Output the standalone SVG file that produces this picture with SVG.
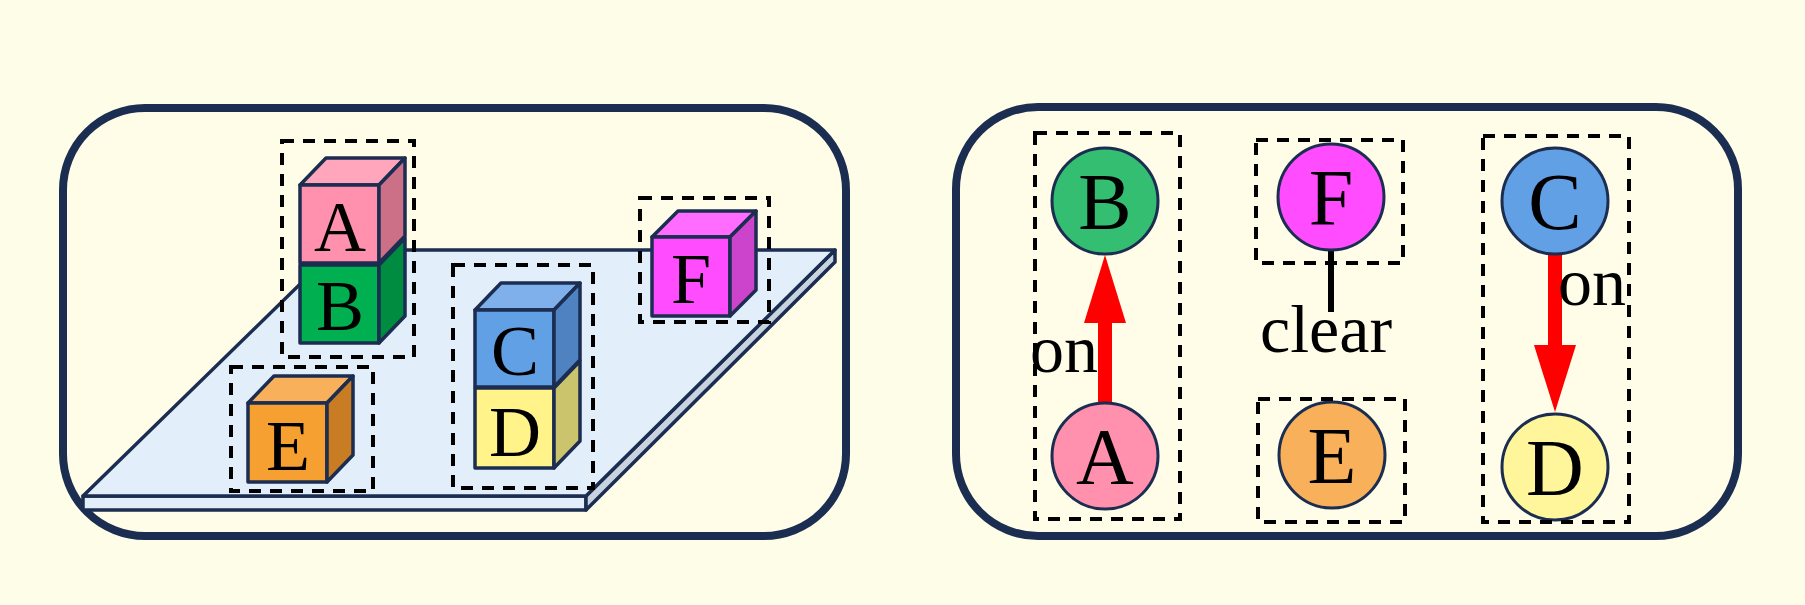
<svg xmlns="http://www.w3.org/2000/svg" width="1805" height="605" viewBox="0 0 1805 605">
<defs>
<style>
.panel{fill:#FFFDE8;stroke:#1B2D50;stroke-width:8}
.cube polygon,.cube rect{stroke:#1B2D50;stroke-width:3.5;stroke-linejoin:round}
.dash{fill:none;stroke:#000;stroke-width:4;stroke-dasharray:12 9}
.lt{font-family:"Liberation Serif","Times New Roman",serif;font-size:80px;text-anchor:middle;fill:#000}
.ct{font-family:"Liberation Serif","Times New Roman",serif;font-size:72px;text-anchor:middle;fill:#000}
.lb{font-family:"Liberation Serif","Times New Roman",serif;font-size:68px;fill:#000}
.node{stroke:#1B2D50;stroke-width:3}
</style>
</defs>
<rect width="1805" height="605" fill="#FEFDE8"/>
<g id="world">
<rect class="panel" x="63" y="108" width="783" height="428" rx="82"/>
<g id="table" stroke="#1B2D50" stroke-width="3.5" stroke-linejoin="round">
<polygon points="83,496 586,496 586,510 83,510" fill="#E2EEFA"/>
<polygon points="586,496 835,250 835,262 586,510" fill="#C9D3DF"/>
<polygon points="335,250 835,250 586,496 83,496" fill="#E2EEFA"/>
</g>
<g id="blockB" class="cube">
<rect x="300" y="265" width="79" height="78" fill="#00B050"/>
<polygon points="379,265 405,238 405,316 379,343" fill="#008C40"/>
<text class="ct" x="340" y="330">B</text>
</g>
<g id="blockA" class="cube">
<polygon points="300,185 326,158 405,158 379,185" fill="#FFA6BC"/>
<rect x="300" y="185" width="79" height="78" fill="#FF91AE"/>
<polygon points="379,185 405,158 405,236 379,263" fill="#CC7088"/>
<text class="ct" x="340" y="251">A</text>
</g>
<rect class="dash" x="282" y="141" width="132" height="216"/>
<g id="blockE" class="cube">
<polygon points="248,403 274,376 353,376 327,403" fill="#F8B05A"/>
<rect x="248" y="403" width="79" height="79" fill="#F5A030"/>
<polygon points="327,403 353,376 353,455 327,482" fill="#C87C24"/>
<text class="ct" x="288" y="470">E</text>
</g>
<rect class="dash" x="231" y="367" width="142" height="124"/>
<g id="blockD" class="cube">
<rect x="475" y="388" width="79" height="80" fill="#FFF38A"/>
<polygon points="554,388 580,361 580,441 554,468" fill="#CCC46C"/>
<text class="ct" x="515" y="456">D</text>
</g>
<g id="blockC" class="cube">
<polygon points="475,310 501,283 580,283 554,310" fill="#80B0EC"/>
<rect x="475" y="310" width="79" height="77" fill="#62A0E6"/>
<polygon points="554,310 580,283 580,360 554,387" fill="#4F82C0"/>
<text class="ct" x="515" y="375">C</text>
</g>
<rect class="dash" x="453" y="265" width="140" height="223"/>
<g id="blockF" class="cube">
<polygon points="652,237 678,211 756,211 730,237" fill="#FF6CFF"/>
<rect x="652" y="237" width="78" height="79" fill="#FF4CFF"/>
<polygon points="730,237 756,211 756,290 730,316" fill="#CC44CC"/>
<text class="ct" x="691" y="303">F</text>
</g>
<rect class="dash" x="640" y="198" width="129" height="124"/>
</g>
<g id="graph">
<rect class="panel" x="956" y="107" width="782" height="429" rx="82"/>
<g id="connectors">
<line x1="1105" y1="404" x2="1105" y2="320" stroke="#FF0000" stroke-width="14"/>
<polygon points="1084,323 1126,323 1105,255" fill="#FF0000"/>
<line x1="1555" y1="252" x2="1555" y2="348" stroke="#FF0000" stroke-width="14"/>
<polygon points="1534,345 1576,345 1555,412" fill="#FF0000"/>
<line x1="1331" y1="250" x2="1331" y2="312" stroke="#000" stroke-width="6"/>
<text class="lb" x="1030" y="372">on</text>
<text class="lb" x="1558" y="305">on</text>
<text class="lb" x="1260" y="352">clear</text>
</g>
<g id="nodeB"><circle class="node" cx="1105" cy="201" r="53" fill="#33BE72"/><text class="lt" x="1105" y="229">B</text></g>
<g id="nodeA"><circle class="node" cx="1105" cy="456" r="53" fill="#FF91AE"/><text class="lt" x="1105" y="484">A</text></g>
<g id="nodeF"><circle class="node" cx="1331" cy="197" r="53" fill="#FF4CFF"/><text class="lt" x="1331" y="225">F</text></g>
<g id="nodeE"><circle class="node" cx="1332" cy="455" r="53" fill="#F8B05A"/><text class="lt" x="1332" y="483">E</text></g>
<g id="nodeC"><circle class="node" cx="1555" cy="201" r="53" fill="#62A0E6"/><text class="lt" x="1555" y="229">C</text></g>
<g id="nodeD"><circle class="node" cx="1555" cy="467" r="53" fill="#FFF59A"/><text class="lt" x="1555" y="495">D</text></g>
<rect class="dash" x="1035" y="133" width="145" height="386"/>
<rect class="dash" x="1256" y="140" width="147" height="123"/>
<rect class="dash" x="1258" y="399" width="147" height="123"/>
<rect class="dash" x="1483" y="136" width="146" height="386"/>
</g>
</svg>
